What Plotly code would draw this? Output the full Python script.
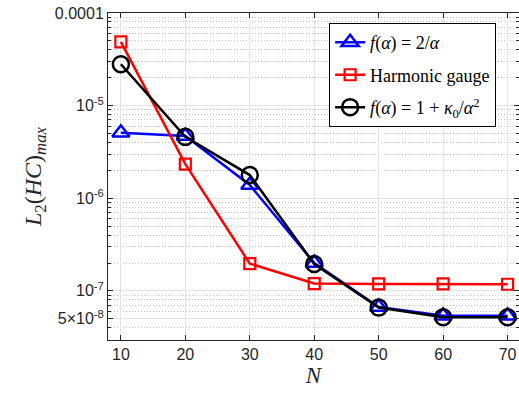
import plotly.graph_objects as go
import numpy as np

N = [10, 20, 30, 40, 50, 60, 70]
f_2_over_alpha = [5.1e-6, 4.7e-6, 1.39e-6, 2.0e-7, 6.7e-8, 5.4e-8, 5.4e-8]
harmonic = [4.87e-5, 2.34e-6, 1.97e-7, 1.2e-7, 1.19e-7, 1.19e-7, 1.18e-7]
f_kappa = [2.8e-5, 4.6e-6, 1.78e-6, 1.95e-7, 6.6e-8, 5.2e-8, 5.2e-8]

ytickvals = [5e-8, 1e-7, 1e-6, 1e-5, 1e-4]
yticktext = ["5×10<sup>-8</sup>", "10<sup>-7</sup>", "10<sup>-6</sup>", "10<sup>-5</sup>", "0.0001"]
minor_vals = [m * 10.0 ** e for e in range(-8, -4) for m in range(2, 10)]
minor_vals = [v for v in minor_vals if 3e-8 <= v <= 1e-4 and abs(v - 5e-8) > 1e-12]

serif = "Liberation Serif"
sans = "Liberation Sans"

fig = go.Figure()
fig.add_trace(go.Scatter(
    x=N, y=f_2_over_alpha, mode="lines+markers",
    name="<i>f</i>(<i>α</i>) = 2/<i>α</i>", legendgroup="a",
    line=dict(color="#0000ff", width=2.5),
    marker=dict(symbol="triangle-up-open", size=15, color="#0000ff", line=dict(width=2.5, color="#0000ff")),
))
fig.add_trace(go.Scatter(
    x=N, y=harmonic, mode="lines+markers",
    name="Harmonic gauge", legendgroup="b",
    line=dict(color="#ff0000", width=2.5),
    marker=dict(symbol="square-open", size=11, color="#ff0000", line=dict(width=2.2, color="#ff0000")),
))
fig.add_trace(go.Scatter(
    x=N, y=f_kappa, mode="lines+markers",
    name="<i>f</i>(<i>α</i>) = 1 + <i>κ</i><sub>0</sub>/<i>α</i><sup>2</sup>", legendgroup="c",
    line=dict(color="#000000", width=2.5),
    marker=dict(symbol="circle-open", size=16, color="#000000", line=dict(width=2.5, color="#000000")),
))

fig.update_layout(
    width=519, height=395,
    margin=dict(l=108, r=0, t=13, b=55),
    paper_bgcolor="white", plot_bgcolor="white",
    showlegend=True,
    legend=dict(
        x=0.538, y=0.969, xanchor="left", yanchor="top",
        bgcolor="white", bordercolor="black", borderwidth=1,
        font=dict(family=serif, size=18, color="black"),
        tracegroupgap=6,
    ),
    xaxis=dict(
        range=[8, 71.77],
        tickvals=N, ticktext=[str(v) for v in N],
        tickfont=dict(family=sans, size=16, color="#262626"),
        showgrid=True, gridcolor="#e3e3e3", gridwidth=1,
        showline=True, linecolor="#262626", linewidth=1, mirror="ticks",
        ticks="inside", ticklen=5, tickcolor="#262626",
        zeroline=False,
        title=dict(text="<i>N</i>", font=dict(family=serif, size=23, color="#262626"), standoff=4),
    ),
    yaxis=dict(
        type="log",
        range=[np.log10(2.95e-8), -4],
        tickvals=ytickvals, ticktext=yticktext,
        tickfont=dict(family=sans, size=16, color="#262626"),
        showgrid=True, gridcolor="#e3e3e3", gridwidth=1,
        showline=True, linecolor="#262626", linewidth=1, mirror="ticks",
        ticks="inside", ticklen=5, tickcolor="#262626",
        minor=dict(tickvals=minor_vals, showgrid=True, gridcolor="#c4c4c4", griddash="1px,2px",
                   gridwidth=1, ticks="inside", ticklen=3, tickcolor="#262626"),
        zeroline=False,
        title=dict(text="<i>L</i><sub>2</sub>(<i>HC</i>)<sub><i>max</i></sub>",
                   font=dict(family=serif, size=24, color="#262626"), standoff=6),
    ),
)

fig.write_html("out.html")
